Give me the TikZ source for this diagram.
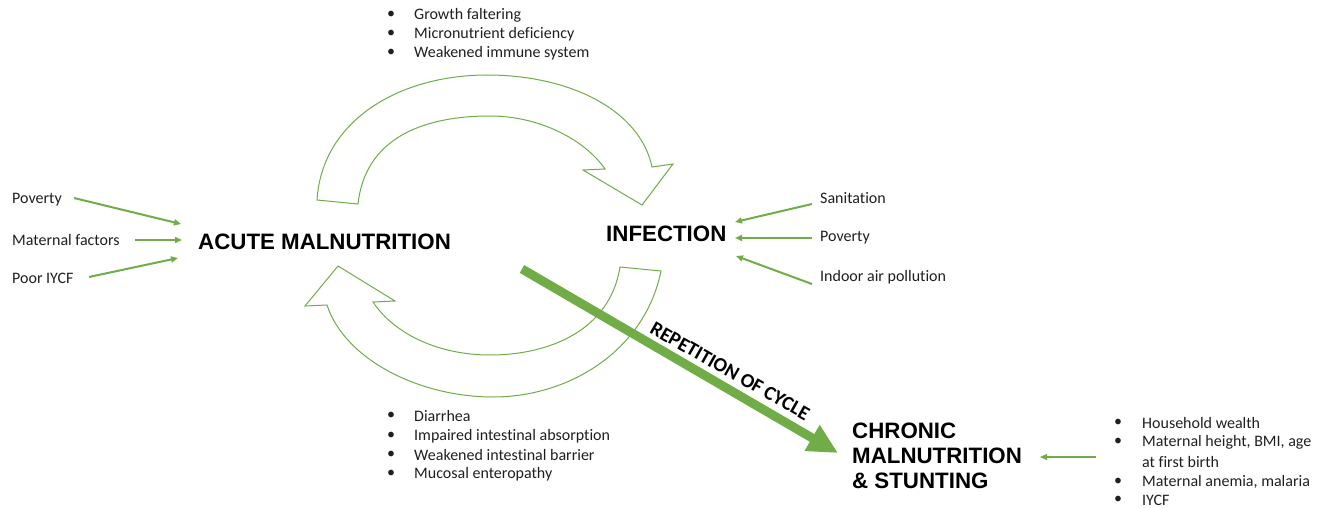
\documentclass[tikz,border=0pt]{standalone}
\usepackage{fontspec}
\setmainfont{Carlito}[RawFeature={-liga}]
\newfontfamily\headfont{Liberation Sans}
\usetikzlibrary{arrows.meta}
\definecolor{grn}{HTML}{70AD47}
\definecolor{txt}{HTML}{1F1F1F}
\begin{document}
\begin{tikzpicture}[x=1pt,y=-1pt,
  body/.style={anchor=west, inner sep=0pt, font=\fontsize{16}{19}\selectfont, text=txt},
  bul/.style={anchor=center, inner sep=0pt, font=\fontsize{16}{19}\selectfont, text=txt},
  head/.style={anchor=west, inner sep=0pt, font=\headfont\bfseries\fontsize{22.3}{25}\selectfont},
  thinarrow/.style={draw=grn, line width=2pt, -{Triangle[length=7pt,width=6pt]}},
  blockarrow/.style={draw=grn, line width=1pt, fill=white, line join=miter},
]
\useasboundingbox (0,0) rectangle (1341,508);

% curved block arrows
\draw[blockarrow] (317,200) .. controls (322,120) and (400,75) .. (487,75)
  .. controls (570,75) and (640,110) .. (652,167)
  -- (673,164) -- (642,205) -- (583,170) -- (605,169)
  .. controls (585,140) and (540,116) .. (490,116)
  .. controls (420,116) and (365,140) .. (358,204) -- cycle;
\draw[blockarrow] (661,271) .. controls (645,350) and (570,397) .. (493,397)
  .. controls (420,397) and (345,360) .. (327,305)
  -- (305,306) -- (338,266) -- (395,301) -- (373,302)
  .. controls (395,335) and (440,355) .. (490,355)
  .. controls (550,355) and (610,330) .. (620,267) -- cycle;

% headings
\node[head] (acute) at (198,242) {ACUTE MALNUTRITION};
\node[head] (infection) at (606,234) {INFECTION};
\node[head, align=left] (chronic) at (852,456) {CHRONIC\\MALNUTRITION\\\& STUNTING};

% top list
\node[bul] (tb1) at (391,15) {•}; \node[body] (t1) at (414,15) {Growth faltering};
\node[bul] (tb2) at (391,34) {•}; \node[body] (t2) at (414,34) {Micronutrient deficiency};
\node[bul] (tb3) at (391,53) {•}; \node[body] (t3) at (414,53) {Weakened immune system};

% bottom list
\node[bul] (bb1) at (391,416) {•}; \node[body] (b1) at (414,416) {Diarrhea};
\node[bul] (bb2) at (391,436) {•}; \node[body] (b2) at (414,436) {Impaired intestinal absorption};
\node[bul] (bb3) at (391,455) {•}; \node[body] (b3) at (414,455) {Weakened intestinal barrier};
\node[bul] (bb4) at (391,474) {•}; \node[body] (b4) at (414,474) {Mucosal enteropathy};

% right list
\node[bul] (rb1) at (1118,423) {•}; \node[body] (r1) at (1142,423) {Household wealth};
\node[bul] (rb2) at (1118,442) {•}; \node[body] (r2) at (1142,442) {Maternal height, BMI, age};
\node[body] (r2b) at (1142,462) {at first birth};
\node[bul] (rb3) at (1118,482) {•}; \node[body] (r3) at (1142,482) {Maternal anemia, malaria};
\node[bul] (rb4) at (1118,500) {•}; \node[body] (r4) at (1142,500) {IYCF};

% left factors
\node[body] (lp) at (12,200) {Poverty};
\node[body] (lm) at (12,240) {Maternal factors};
\node[body] (li) at (12,278) {Poor IYCF};
\coordinate (lpS) at (74,198); \coordinate (lpE) at (181,224);
\coordinate (lmS) at (135,240); \coordinate (lmE) at (182,240);
\coordinate (liS) at (89,277); \coordinate (liE) at (178,258);
\draw[thinarrow] (lpS) -- (lpE);
\draw[thinarrow] (lmS) -- (lmE);
\draw[thinarrow] (liS) -- (liE);

% right factors
\node[body] (rs) at (820,198) {Sanitation};
\node[body] (rp) at (820,238) {Poverty};
\node[body] (ri) at (820,277) {Indoor air pollution};
\coordinate (rsS) at (812,204); \coordinate (rsE) at (735,222);
\coordinate (rpS) at (812,238); \coordinate (rpE) at (735,238);
\coordinate (riS) at (812,284); \coordinate (riE) at (736,256);
\draw[thinarrow] (rsS) -- (rsE);
\draw[thinarrow] (rpS) -- (rpE);
\draw[thinarrow] (riS) -- (riE);

% chronic arrow
\coordinate (chS) at (1096,457); \coordinate (chE) at (1040,457);
\draw[draw=grn, line width=1.2pt, -{Triangle[length=7pt,width=6pt]}] (chS) -- (chE);

% repetition arrow
\coordinate (repS) at (522,269); \coordinate (repE) at (838,453);
\draw[grn, line width=9pt, -{Triangle[length=30pt,width=28pt]}] (repS) -- (repE);
\node[rotate=-29.5, inner sep=0pt, font=\bfseries\fontsize{20}{24}\selectfont] (rep) at (730,371) {REPETITION OF CYCLE};
\end{tikzpicture}
\end{document}
